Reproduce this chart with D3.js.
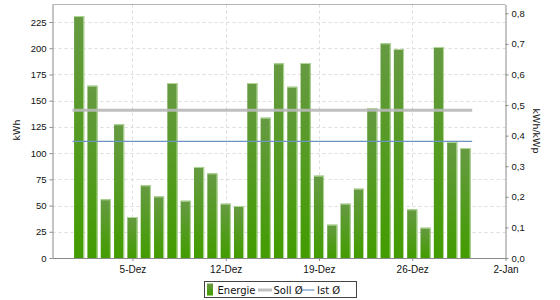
<!DOCTYPE html>
<html><head><meta charset="utf-8">
<script src="https://cdn.jsdelivr.net/npm/d3@7"></script>
<style>body{margin:0;background:#fff}svg{display:block;font-family:"DejaVu Sans",sans-serif}</style>
</head><body><svg id="c" width="560" height="300"></svg>
<script>
const days = d3.range(1, 31);               // Dec 1 .. Dec 30
const energie = [230.7,164.3,56,127.5,39.1,69.3,58.7,166.8,54.6,86.8,80.7,51.8,49.6,166.8,133.8,185.6,163.3,185.9,78.5,31.8,51.8,66.1,143,204.7,199.3,46.4,28.9,201.2,110.6,104.8];
const sollAvg = [0.483];   // kWh/kWp
const istAvg = [111.2];    // kWh
const leftTicks = [0,25,50,75,100,125,150,175,200,225];
const rightTicks = [0,0.1,0.2,0.3,0.4,0.5,0.6,0.7,0.8];
const xTickDates = [[2013,11,5],[2013,11,12],[2013,11,19],[2013,11,26],[2014,0,2]];
const monthNames = ["Jan","Feb","Mär","Apr","Mai","Jun","Jul","Aug","Sep","Okt","Nov","Dez"];
const legendItems = ["Energie","Soll Ø","Ist Ø"];

const svg = d3.select("#c");
const L = 52.5, R = 505.5, T = 4.5, B = 258;
const x = d3.scaleTime().domain([new Date(2013,10,29), new Date(2014,0,2)]).range([L, R]);
const yL = d3.scaleLinear().domain([0, 241.7]).range([B, T]);
const yR = d3.scaleLinear().domain([0, 0.8287]).range([B, T]);
const dates = days.map(d => new Date(2013, 11, d));
const dayW = x(new Date(2013,11,2)) - x(new Date(2013,11,1));
const bw = dayW * 0.76;

const defs = svg.append("defs");
const g = defs.append("linearGradient").attr("id","bg").attr("x1",0).attr("y1",0).attr("x2",0).attr("y2",1);
g.append("stop").attr("offset","0%").attr("stop-color","#669a42");
g.append("stop").attr("offset","100%").attr("stop-color","#429c00");

// grid
svg.append("g").selectAll("line").data(leftTicks.filter(v=>v>0)).join("line")
  .attr("x1",L).attr("x2",R).attr("y1",d=>Math.round(yL(d))+0.5).attr("y2",d=>Math.round(yL(d))+0.5)
  .attr("stroke","#dcdcdc").attr("stroke-dasharray","3,3");
const xt = xTickDates.map(a=>new Date(a[0],a[1],a[2]));
svg.append("g").selectAll("line").data(xt.slice(0,-1)).join("line")
  .attr("y1",T).attr("y2",B).attr("x1",d=>Math.round(x(d))+0.5).attr("x2",d=>Math.round(x(d))+0.5)
  .attr("stroke","#dcdcdc").attr("stroke-dasharray","3,3");
// top border
svg.append("line").attr("x1",L).attr("x2",R).attr("y1",T).attr("y2",T).attr("stroke","#b4b4b4");

// bars
const bars = svg.append("g");
bars.selectAll("rect").data(energie).join("rect")
  .attr("x",(d,i)=>x(dates[i])-bw/2).attr("width",bw)
  .attr("y",d=>yL(d)).attr("height",d=>B-yL(d)).attr("fill","url(#bg)");
bars.selectAll("path").data(energie).join("path")
  .attr("d",(d,i)=>`M${x(dates[i])-bw/2},${yL(d)+0.5}H${x(dates[i])+bw/2-0.5}V${B}`)
  .attr("fill","none").attr("stroke","#b3d899").attr("stroke-width",1);

// average lines
const x0 = x(dates[0]) - dayW/2, x1 = x(dates[dates.length-1]) + dayW/2;
svg.append("line").attr("x1",x0).attr("x2",x1).attr("y1",yR(sollAvg[0])).attr("y2",yR(sollAvg[0]))
  .attr("stroke","#b9b9b9").attr("stroke-width",3).attr("opacity",0.9);
svg.append("line").attr("x1",x0).attr("x2",x1).attr("y1",yL(istAvg[0])).attr("y2",yL(istAvg[0]))
  .attr("stroke","#6d95c4").attr("stroke-width",1.2);

// axes
const fmtDate = d => d.getDate() + "-" + monthNames[d.getMonth()];
const ax = svg.append("g").attr("transform",`translate(0,${B})`)
  .call(d3.axisBottom(x).tickValues(xt).tickFormat(fmtDate).tickSize(3).tickSizeOuter(0));
ax.selectAll("text").attr("font-size",10).attr("fill","#111").attr("dy","0.85em");
const al = svg.append("g").attr("transform",`translate(${L},0)`)
  .call(d3.axisLeft(yL).tickValues(leftTicks).tickSize(3).tickSizeOuter(0));
al.selectAll("text").attr("font-size",9.5).attr("fill","#111");
const ar = svg.append("g").attr("transform",`translate(${R},0)`)
  .call(d3.axisRight(yR).tickValues(rightTicks).tickFormat(d=>d3.format(".1f")(d).replace(".",",")).tickSize(3).tickSizeOuter(0));
ar.selectAll("text").attr("font-size",9.5).attr("fill","#111");
svg.selectAll(".domain").attr("stroke","#8a8a8a");
svg.selectAll(".tick line").attr("stroke","#8a8a8a");
ax.select(".domain").attr("d",`M${L},0.5H${R}`);

// axis titles
svg.append("text").attr("transform","translate(20,130) rotate(-90)").attr("text-anchor","middle")
  .attr("font-size",9.5).attr("fill","#111").text("kWh");
svg.append("text").attr("transform","translate(533,131) rotate(90)").attr("text-anchor","middle")
  .attr("font-size",9.5).attr("fill","#111").text("kWh/kWp");

// legend
const lg = svg.append("g");
lg.append("rect").attr("x",204.5).attr("y",281.5).attr("width",152).attr("height",16)
  .attr("fill","#fff").attr("stroke","#444");
lg.append("rect").attr("x",207).attr("y",283.5).attr("width",6).attr("height",12).attr("fill","url(#bg)");
lg.append("line").attr("x1",258).attr("x2",272).attr("y1",290).attr("y2",290).attr("stroke","#c0c0c0").attr("stroke-width",3);
lg.append("line").attr("x1",301.5).attr("x2",314.5).attr("y1",290).attr("y2",290).attr("stroke","#6d95c4").attr("stroke-width",1.2);
const lx = [217.5, 273.5, 317];
lg.selectAll("text").data(legendItems).join("text")
  .attr("x",(d,i)=>lx[i]).attr("y",293.5).attr("font-size",10).attr("fill","#111").text(d=>d);
</script></body></html>
